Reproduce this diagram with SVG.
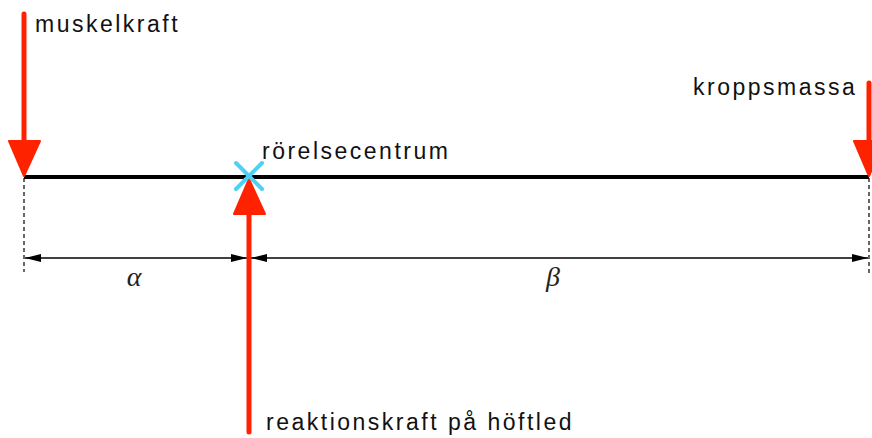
<svg xmlns="http://www.w3.org/2000/svg" width="872" height="438" viewBox="0 0 872 438">
<style>
.lbl{font-family:"Liberation Sans",Arial,sans-serif;font-size:23px;letter-spacing:2.5px;fill:#111}
.greek{font-family:"Liberation Serif","DejaVu Serif",serif;font-style:italic;font-size:28px;fill:#222;text-anchor:middle}
.force{stroke:#ff2200;stroke-width:5;stroke-linecap:round}
.head{fill:#ff2200;stroke:#ff2200;stroke-width:2;stroke-linejoin:round}
.dash{stroke:#000;stroke-width:1.2;stroke-dasharray:4 3}
.dim{stroke:#000;stroke-width:1.3}
</style>
<defs>
<marker id="dimArrow" viewBox="0 0 16 8" refX="16" refY="4" markerWidth="16" markerHeight="8" markerUnits="userSpaceOnUse" orient="auto-start-reverse">
<path d="M0,0 L16,4 L0,8 Z" fill="#000"/>
</marker>
</defs>
<rect width="872" height="438" fill="#fff"/>
<g id="connectors">
<line class="dash" x1="24" y1="178" x2="24" y2="272"/>
<line class="dash" x1="869" y1="178" x2="869" y2="275"/>
<line class="dim" x1="25" y1="258" x2="247" y2="258" marker-start="url(#dimArrow)" marker-end="url(#dimArrow)"/>
<line class="dim" x1="251" y1="258" x2="868" y2="258" marker-start="url(#dimArrow)" marker-end="url(#dimArrow)"/>
</g>
<g id="beam">
<line x1="24" y1="177" x2="869" y2="177" stroke="#000" stroke-width="4"/>
</g>
<g id="muskelkraft">
<line class="force" x1="24" y1="14" x2="24" y2="145"/>
<polygon class="head" points="9,141 40,141 24,176"/>
<text class="lbl" x="35" y="32">muskelkraft</text>
</g>
<g id="kroppsmassa">
<line class="force" x1="869" y1="83" x2="869" y2="145"/>
<polygon class="head" points="854,141 885,141 869,176"/>
<text class="lbl" x="693" y="95">kroppsmassa</text>
</g>
<g id="reaktionskraft">
<line class="force" x1="249" y1="432" x2="249" y2="210"/>
<polygon class="head" points="234,214 265,214 249,179"/>
<text class="lbl" x="266" y="430">reaktionskraft på höftled</text>
</g>
<g id="rorelsecentrum">
<line x1="236" y1="163" x2="262" y2="189" stroke="#4fd0f5" stroke-width="4" stroke-linecap="round"/>
<line x1="262" y1="163" x2="236" y2="189" stroke="#4fd0f5" stroke-width="4" stroke-linecap="round"/>
<text class="lbl" x="262" y="159">rörelsecentrum</text>
</g>
<g id="alpha"><text class="greek" x="134" y="286">α</text></g>
<g id="beta"><text class="greek" x="553" y="286">β</text></g>
</svg>
